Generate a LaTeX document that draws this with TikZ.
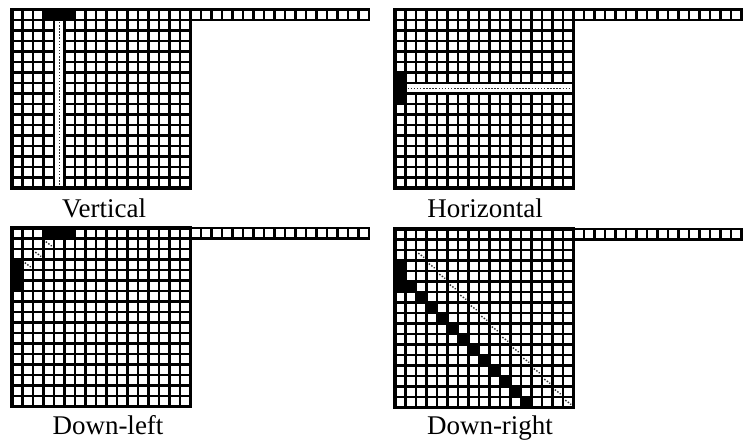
\documentclass[tikz,border=0pt]{standalone}
\usepackage{fontspec}
\setmainfont{Liberation Serif}
\newcommand\cellsz{10.5}
\newcommand\gridpanel[2]{%
 \begin{scope}[shift={(#1,#2)}]
  \foreach \i in {0,...,17} \draw[gl] (0,{\i*\cellsz}) -- ({17*\cellsz},{\i*\cellsz});
  \foreach \i in {0,...,17} \draw[gl] ({\i*\cellsz},0) -- ({\i*\cellsz},{17*\cellsz});
  \draw[gl] ({17*\cellsz},0) -- ({34*\cellsz},0) ({17*\cellsz},\cellsz) -- ({34*\cellsz},\cellsz);
  \foreach \i in {18,...,34} \draw[gl] ({\i*\cellsz},0) -- ({\i*\cellsz},\cellsz);
  \draw[frame] (0,0) rectangle ({17*\cellsz},{17*\cellsz});
 \end{scope}}
\newcommand\blkcell[2]{\fill[black] ({(#1)*\cellsz},{(#2)*\cellsz}) rectangle ({(#1+1)*\cellsz},{(#2+1)*\cellsz});}
\newcommand\dotcell[2]{\draw[dots] ({(#1+0.22)*\cellsz},{(#2+0.3)*\cellsz}) -- ({(#1+0.78)*\cellsz},{(#2+0.72)*\cellsz});}
\begin{document}
\begin{tikzpicture}[x=1pt,y=-1pt,
  gl/.style={line width=2.5pt,line cap=rect},
  frame/.style={line width=3.2pt},
  caption/.style={font=\fontsize{27}{27}\selectfont, anchor=base},
  dots/.style={line width=1.4pt, dash pattern=on 1.5pt off 1.6pt, black!80},
  strip/.style={fill=white}]
\useasboundingbox (0,0) rectangle (743,441);
\clip (0,0) rectangle (743,441);
% ---------- Vertical ----------
\gridpanel{12}{9.5}
\begin{scope}[shift={(12,9.5)}]
  \fill[strip] ({4*\cellsz+1.25},{\cellsz+1.25}) rectangle ({5*\cellsz-1.25},{17*\cellsz-1.6});
  \draw[dots] ({4.5*\cellsz},{\cellsz+2}) -- ({4.5*\cellsz},{17*\cellsz-2});
  \foreach \c in {3,4,5} {\blkcell{\c}{0}}
\end{scope}
% ---------- Horizontal ----------
\gridpanel{395}{9.5}
\begin{scope}[shift={(395,9.5)}]
  \fill[strip] ({\cellsz+1.25},{7*\cellsz+1.25}) rectangle ({17*\cellsz-1.6},{8*\cellsz-1.25});
  \draw[dots] ({\cellsz+2},{7.5*\cellsz}) -- ({17*\cellsz-2},{7.5*\cellsz});
  \draw[line width=2.9pt] (\cellsz,{7*\cellsz}) -- ({17*\cellsz},{7*\cellsz}) (\cellsz,{8*\cellsz}) -- ({17*\cellsz},{8*\cellsz});
  \foreach \r in {6,7,8} {\blkcell{0}{\r}}
\end{scope}
% ---------- Down-left ----------
\gridpanel{12}{228}
\begin{scope}[shift={(12,228)}]
  \foreach \c in {3,4,5} {\blkcell{\c}{0}}
  \foreach \r in {3,4,5} {\blkcell{0}{\r}}
  \dotcell{3}{1} \dotcell{2}{2} \dotcell{1}{3}
\end{scope}
% ---------- Down-right ----------
\gridpanel{395}{229}
\begin{scope}[shift={(395,229)}]
  \foreach \r in {3,4,5} {\blkcell{0}{\r}}
  \foreach \k in {0,...,11} {\blkcell{\k+1}{\k+5}}
  \foreach \k in {2,...,16} {\dotcell{\k}{\k}}
\end{scope}
% ---------- captions ----------
\node[caption] (lv) at (104,217) {Vertical};
\node[caption] (lh) at (485,217) {Horizontal};
\node[caption] (ldl) at (108,434) {Down-left};
\node[caption] (ldr) at (490,434) {Down-right};
\end{tikzpicture}
\end{document}
